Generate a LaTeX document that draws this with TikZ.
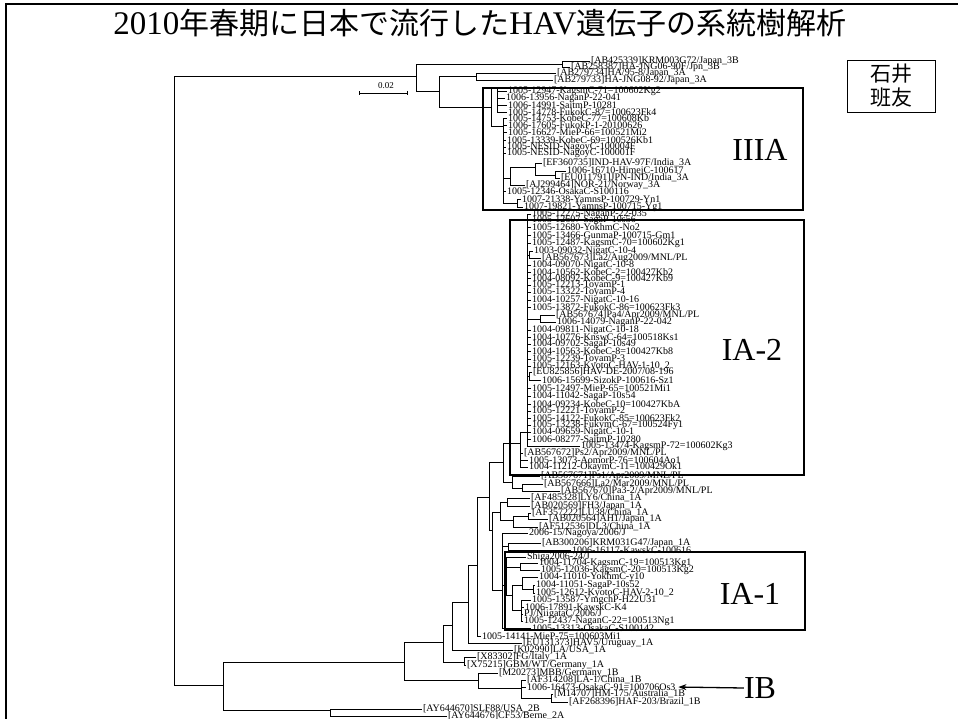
\documentclass[tikz,border=0pt]{standalone}
\usepackage{fontspec}
\setmainfont{Liberation Serif}
\newfontfamily\lfont{Liberation Serif}
\newfontfamily\cjk{Noto Sans CJK JP}
\usetikzlibrary{arrows.meta}
\newcommand\mkleaf[4]{\node[lfx] (#1) at (#2,#3) {#4};}
\newcommand\mkjn[3]{\node[jn] (#1) at (#2,#3) {};}
\newcommand\kids[2]{\foreach \c in {#2}{\draw[br] (#1.west) |- (\c.west);}}
\begin{document}
\begin{tikzpicture}[x=1pt,y=-1pt,
  lfx/.style={anchor=west, inner sep=0.8pt, font=\lfont\fontsize{10}{10}\selectfont},
  jn/.style={inner sep=0pt, outer sep=0pt, minimum size=0pt},
  br/.style={line width=0.75pt},
  gbox/.style={draw, line width=1.1pt, inner sep=0pt},
  glab/.style={inner sep=0pt, font=\lfont\fontsize{32}{32}\selectfont}]
\useasboundingbox (0,0) rectangle (958,719);
% frame
\draw[line width=1.5pt] (6,719) -- (6,4) -- (958,4);
% title
\node (ttl) at (480,23) {{\lfont\fontsize{33}{33}\selectfont 2010}{\cjk\fontsize{30}{30}\selectfont 年春期に日本で流行した}{\lfont\fontsize{33}{33}\selectfont HAV}{\cjk\fontsize{30}{30}\selectfont 遺伝子の系統樹解析}};
\node[draw, line width=0.8pt, align=center, inner sep=0pt, minimum width=88pt, minimum height=52pt, font=\cjk\fontsize{21}{24}\selectfont] (ishii) at (891,86) {石井\\班友};
% scale bar
\mkjn{sb1}{359}{93}\mkjn{sb2}{408}{93}
\draw[line width=0.8pt, {Bar[width=4pt]}-{Bar[width=4pt]}] (sb1) -- (sb2);
\node[inner sep=0pt, font=\lfont\fontsize{9}{9}\selectfont] (sbl) at (386,86) {0.02};
% group boxes
\node[gbox, minimum width=320pt, minimum height=122pt] (bIIIA) at (643,149) {};
\node[gbox, minimum width=294pt, minimum height=255pt] (bIA2) at (657,347.5) {};
\node[gbox, minimum width=300pt, minimum height=78pt] (bIA1) at (655,591) {};
\node[glab] (lIIIA) at (760,150) {IIIA};
\node[glab] (lIA2) at (752,350) {IA-2};
\node[glab] (lIA1) at (750,594) {IA-1};
\node[glab] (lIB) at (760,688) {IB};
% junctions
\mkjn{R}{174}{380}\mkjn{T}{416}{76}\mkjn{Bn}{223}{685}
\mkjn{T1}{562}{64}\mkjn{T2}{439}{91}\mkjn{T21}{476}{76}\mkjn{T22}{491}{107}
\mkjn{U1}{497}{88}\mkjn{U2}{503}{126}\mkjn{V}{510}{178}\mkjn{V1}{535}{167}
\mkjn{V2}{555}{175}\mkjn{W}{517}{203}
\mkjn{IA2}{527}{432}\mkjn{S1}{529}{255}\mkjn{S2}{540}{319}\mkjn{S3}{529}{376}
\mkjn{C}{404}{662}\mkjn{D}{330}{710}\mkjn{E}{443}{642}\mkjn{IBn}{478}{680}
\mkjn{IBb}{521}{688}\mkjn{IBd}{551}{698}
\mkjn{F}{452}{625}\mkjn{G}{464}{662}\mkjn{H}{468}{602}\mkjn{J}{477}{565}
\mkjn{K}{489}{497}\mkjn{M}{503}{462}\mkjn{N}{492}{530}\mkjn{M1}{520}{443}
\mkjn{M2}{512}{482}\mkjn{M3}{522}{488}
\mkjn{O}{500}{512}\mkjn{O1}{507}{502}\mkjn{O2}{513}{520}\mkjn{O3}{528}{516}
\mkjn{P}{502}{590}\mkjn{P1}{508}{546}\mkjn{IA1}{506}{585}
\mkjn{Q1}{520}{567}\mkjn{Q2}{512}{595}\mkjn{Q3}{522}{585}\mkjn{Q4}{533}{589}\mkjn{Q5}{521}{610}
% leaves: genotype III
\mkleaf{a1}{590}{61}{[AB425339]KRM003G72/Japan\_3B}
\mkleaf{a2}{570}{67}{[AB258387]HA-JNG06-90F/Jpn\_3B}
\mkleaf{a3}{556}{73}{[AB279734]HA/95-8/Japan\_3A}
\mkleaf{a4}{553}{80}{[AB279733]HA-JNG08-92/Japan\_3A}
\mkleaf{b1}{507}{91}{1005-12947-KagsmC-71=100602Kg2}
\mkleaf{b2}{505}{98}{1006-13956-NaganP-22-041}
\mkleaf{b3}{507}{105}{1006-14991-SaitmP-10281}
\mkleaf{b4}{507}{112}{1005-14778-FukokC-87=100623Fk4}
\mkleaf{b5}{507}{118}{1005-14753-KobeC-77=100608Kb}
\mkleaf{b6}{507}{125}{1006-17605-FukokP-1-20100626}
\mkleaf{b7}{507}{132}{1005-16627-MieP-66=100521Mi2}
\mkleaf{b8}{506}{140}{1005-13339-KobeC-69=100526Kb1}
\mkleaf{b9}{506}{147}{1005-NESID-NagoyC-100004F}
\mkleaf{b10}{506}{153}{1005-NESID-NagoyC-100001F}
\mkleaf{b11}{542}{163}{[EF360735]IND-HAV-97F/India\_3A}
\mkleaf{b12}{566}{171}{1006-16710-HimejC-100617}
\mkleaf{b13}{560}{178}{[EU011791]JPN-IND/India\_3A}
\mkleaf{b14}{525}{185}{[AJ299464]NOR-21/Norway\_3A}
\mkleaf{b15}{506}{191}{1005-12346-OsakaC-S100116}
\mkleaf{b16}{521}{199}{1007-21338-YamnsP-100729-Yn1}
\mkleaf{b17}{523}{207}{1007-19821-YamnsP-100715-Yg1}
% IA-2
\mkleaf{c0}{531}{214}{1005-12275-NaganP-22-035}
\mkleaf{c1}{531}{220}{1005-12607-SagaP-10s56}
\mkleaf{c2}{531}{227}{1005-12680-YokhmC-No2}
\mkleaf{c3}{531}{235}{1005-13466-GunmaP-100715-Gm1}
\mkleaf{c4}{531}{243}{1005-12487-KagsmC-70=100602Kg1}
\mkleaf{c5}{533}{251}{1003-09032-NigatC-10-4}
\mkleaf{c6}{541}{258}{[AB567673]La2/Aug2009/MNL/PL}
\mkleaf{c7}{531}{265}{1004-09070-NigatC-10-8}
\mkleaf{c8}{531}{272}{1004-10562-KobeC-2=100427Kb2}
\mkleaf{c9}{531}{278}{1004-08092-KobeC-9=100427Kb9}
\mkleaf{c10}{531}{285}{1005-12213-ToyamP-1}
\mkleaf{c11}{531}{292}{1005-13322-ToyamP-4}
\mkleaf{c12}{531}{300}{1004-10257-NigatC-10-16}
\mkleaf{c13}{531}{307}{1005-13872-FukokC-86=100623Fk3}
\mkleaf{c14}{555}{315}{[AB567674]Pa4/Apr2009/MNL/PL}
\mkleaf{c15}{556}{322}{1006-14079-NaganP-22-042}
\mkleaf{c16}{531}{330}{1004-09811-NigatC-10-18}
\mkleaf{c17}{531}{337}{1004-10776-KnswC-64=100518Ks1}
\mkleaf{c18}{531}{344}{1004-09702-SagaP-10s49}
\mkleaf{c19}{531}{351}{1004-10563-KobeC-8=100427Kb8}
\mkleaf{c20}{531}{359}{1005-12239-ToyamP-3}
\mkleaf{c21}{531}{366}{1005-12163-KyotoC-HAV-1-10\_2}
\mkleaf{c22}{532}{372}{[EU825856]HAV-DE-2007/08-196}
\mkleaf{c23}{541}{380}{1006-15699-SizokP-100616-Sz1}
\mkleaf{c24}{531}{388}{1005-12497-MieP-65=100521Mi1}
\mkleaf{c25}{531}{396}{1004-11042-SagaP-10s54}
\mkleaf{c26}{531}{404}{1004-09234-KobeC-10=100427KbA}
\mkleaf{c27}{531}{411}{1005-12221-ToyamP-2}
\mkleaf{c28}{531}{418}{1005-14122-FukokC-85=100623Fk2}
\mkleaf{c29}{531}{425}{1005-13238-FukymC-67=100524Fy1}
\mkleaf{c30}{531}{432}{1004-09659-NigatC-10-1}
\mkleaf{c31}{531}{439}{1006-08277-SaitmP-10280}
\mkleaf{c32}{580}{446}{1005-13474-KagsmP-72=100602Kg3}
\mkleaf{m1}{523}{453}{[AB567672]Ps2/Apr2009/MNL/PL}
\mkleaf{m2}{528}{460}{1005-13073-AomorP-76=100604Ao1}
\mkleaf{m3}{528}{467}{1004-11212-OkaymC-11=100429Ok1}
\mkleaf{m4}{540}{476}{[AB567671]Ps1/Apr2009/MNL/PL}
\mkleaf{m5}{543}{484}{[AB567666]La2/Mar2009/MNL/PL}
\mkleaf{m6}{560}{491}{[AB567670]Pa3-2/Apr2009/MNL/PL}
% 1A references
\mkleaf{o1}{530}{498}{[AF485328]LY6/China\_1A}
\mkleaf{o2}{530}{506}{[AB020569]FH3/Japan\_1A}
\mkleaf{o3}{531}{513}{[AF357222]LU38/China\_1A}
\mkleaf{o4}{548}{519}{[AB020564]AH1/Japan\_1A}
\mkleaf{o5}{538}{527}{[AF512536]DL3/China\_1A}
\mkleaf{p1}{528}{533}{2006-15/Nagoya/2006/J}
\mkleaf{p2}{541}{543}{[AB300206]KRM031G47/Japan\_1A}
\mkleaf{p3}{571}{550}{1006-16117-KawskC-100616}
% IA-1
\mkleaf{q0}{526}{557}{Shiga2006-24/J}
\mkleaf{q1}{538}{563}{1004-11704-KagsmC-19=100513Kg1}
\mkleaf{q2}{540}{570}{1005-12036-KagsmC-20=100513Kg2}
\mkleaf{q3}{538}{577}{1004-11010-YokhmC-y10}
\mkleaf{q4}{535}{585}{1004-11051-SagaP-10s52}
\mkleaf{q5}{535}{593}{1005-12612-KyotoC-HAV-2-10\_2}
\mkleaf{q6}{531}{600}{1005-13587-YmgchP-H22U31}
\mkleaf{q7}{524}{607}{1006-17891-KawskC-K4}
\mkleaf{q8}{523}{614}{PJ/NiigataC/2006/J}
\mkleaf{q9}{523}{621}{1005-12437-NaganC-22=100513Ng1}
\mkleaf{p20}{531}{628}{1005-13313-OsakaC-S100142}
\mkleaf{x5}{481}{636}{1005-14141-MieP-75=100603Mi1}
\mkleaf{x4}{522}{643}{[EU131373]HAV5/Uruguay\_1A}
\mkleaf{x3}{513}{650}{[K02990]LA/USA\_1A}
\mkleaf{x1}{476}{657}{[X83302]FG/Italy\_1A}
\mkleaf{x2}{466}{665}{[X75215]GBM/WT/Germany\_1A}
% IB and II
\mkleaf{y1}{498}{673}{[M20273]MBB/Germany\_1B}
\mkleaf{y2}{526}{680}{[AF314208]LA-1/China\_1B}
\mkleaf{y3}{526}{687}{1006-16473-OsakaC-91=100706Os3}
\mkleaf{y4}{553}{694}{[M14707]HM-175/Australia\_1B}
\mkleaf{y5}{568}{702}{[AF268396]HAF-203/Brazil\_1B}
\mkleaf{z1}{422}{709}{[AY644670]SLF88/USA\_2B}
\mkleaf{z2}{447}{716}{[AY644676]CF53/Berne\_2A}
% branches
\kids{R}{T,Bn}
\kids{T}{T1,T2}
\kids{T1}{a1,a2}
\kids{T2}{T21,T22}
\kids{T21}{a3,a4}
\kids{T22}{U1,U2}
\kids{U1}{b1,b2,b3,b4}
\kids{U2}{b5,b6,b7,b8,b9,b10,V,b15,W}
\kids{V}{V1,b14}
\kids{V1}{b11,V2}
\kids{V2}{b12,b13}
\kids{W}{b16,b17}
\kids{Bn}{C,D}
\kids{D}{z1,z2}
\kids{C}{E,IBn}
\kids{IBn}{y1,IBb}
\kids{IBb}{y2,y3,IBd}
\kids{IBd}{y4,y5}
\kids{E}{F,G}
\kids{G}{x1,x2}
\kids{F}{H,x3}
\kids{H}{J,x4}
\kids{J}{K,x5}
\kids{K}{M,N}
\kids{M}{M1,M2}
\kids{M1}{IA2,m1,m2,m3}
\kids{M2}{m4,M3}
\kids{M3}{m5,m6}
\kids{N}{O,P}
\kids{O}{O1,O2}
\kids{O1}{o1,o2}
\kids{O2}{O3,o5}
\kids{O3}{o3,o4}
\kids{P}{p1,P1,IA1,p20}
\kids{P1}{p2,p3}
\kids{IA1}{q0,Q1,Q2}
\kids{Q1}{q1,q2}
\kids{Q2}{Q3,Q5}
\kids{Q3}{q3,Q4}
\kids{Q4}{q4,q5}
\kids{Q5}{q6,q7,q8,q9}
\kids{IA2}{c0,c1,c2,c3,c4,S1,c7,c8,c9,c10,c11,c12,c13,S2,c16,c17,c18,c19,c20,c21,S3,c24,c25,c26,c27,c28,c29,c30,c31,c32}
\kids{S1}{c5,c6}
\kids{S2}{c14,c15}
\kids{S3}{c22,c23}
% IB arrow
\draw[line width=1.3pt, -{Stealth[length=8pt,width=6pt]}, shorten >=2pt] (lIB.west) -- (y3.east);
\end{tikzpicture}
\end{document}
